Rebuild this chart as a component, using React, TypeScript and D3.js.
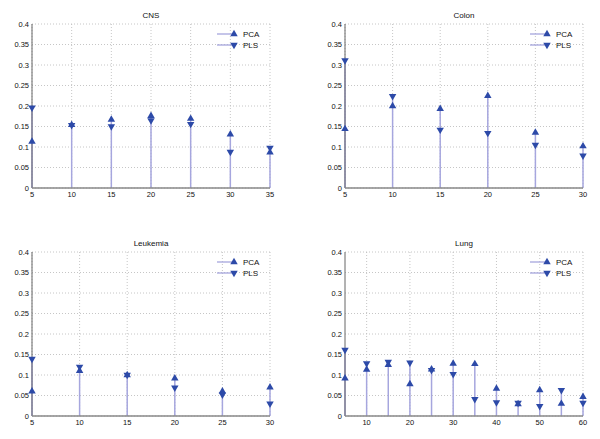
import React from 'react'
import * as d3 from 'd3'

const yTicks = [0, 0.05, 0.1, 0.15, 0.2, 0.25, 0.3, 0.35, 0.4]

const cnsX = [5, 10, 15, 20, 25, 30, 35]
const cnsPCA = [0.113, 0.154, 0.167, 0.176, 0.169, 0.131, 0.087]
const cnsPLS = [0.196, 0.153, 0.15, 0.165, 0.156, 0.088, 0.098]

const colonX = [5, 10, 15, 20, 25, 30]
const colonPCA = [0.144, 0.2, 0.193, 0.225, 0.135, 0.102]
const colonPLS = [0.311, 0.224, 0.142, 0.134, 0.105, 0.079]

const leukX = [5, 10, 15, 20, 25, 30]
const leukPCA = [0.06, 0.11, 0.1, 0.092, 0.06, 0.07]
const leukPLS = [0.139, 0.12, 0.1, 0.069, 0.052, 0.03]

const lungX = [5, 10, 15, 20, 25, 30, 35, 40, 45, 50, 55, 60]
const lungPCA = [0.092, 0.113, 0.125, 0.078, 0.114, 0.128, 0.127, 0.067, 0.029, 0.063, 0.03, 0.047]
const lungPLS = [0.161, 0.128, 0.132, 0.13, 0.112, 0.102, 0.041, 0.033, 0.032, 0.024, 0.063, 0.032]

const stemColor = '#a6a6de'
const markColor = '#2d4aa8'
const font = '"Liberation Sans", Arial, Helvetica, sans-serif'

const triUp = d3.symbol().type(d3.symbolTriangle).size(24)()

function Marker({ x, y, down }) {
  return (
    <path
      d={triUp}
      transform={`translate(${x},${y})${down ? ' rotate(180)' : ''}`}
      fill={markColor}
    />
  )
}

function Panel({ title, xs, pca, pls, xTicks, left, top }) {
  const w = 238
  const h = 164
  const x = d3.scaleLinear().domain([xs[0], xs[xs.length - 1]]).range([0, w])
  const y = d3.scaleLinear().domain([0, 0.4]).range([h, 0])

  return (
    <g transform={`translate(${left},${top})`} fontFamily={font}>
      <text x={w / 2} y={-6} textAnchor="middle" fontSize={8} fill="#111">
        {title}
      </text>
      {/* grid */}
      {yTicks.map((t) => (
        <line key={'gy' + t} x1={0} x2={w} y1={y(t)} y2={y(t)} stroke="#b8b8b8" strokeWidth={0.8} strokeDasharray="1,2" />
      ))}
      {xTicks.map((t) => (
        <line key={'gx' + t} x1={x(t)} x2={x(t)} y1={0} y2={h} stroke="#b8b8b8" strokeWidth={0.8} strokeDasharray="1,2" />
      ))}
      {/* stems */}
      {xs.map((v, i) => (
        <line key={'s' + v} x1={x(v)} x2={x(v)} y1={y(0)} y2={y(Math.max(pca[i], pls[i]))} stroke={stemColor} strokeWidth={1.5} />
      ))}
      {/* axes */}
      <line x1={0} x2={0} y1={0} y2={h} stroke="#666" strokeWidth={1} />
      <line x1={0} x2={w} y1={h} y2={h} stroke="#888" strokeWidth={1.4} />
      {/* markers */}
      {xs.map((v, i) => (
        <Marker key={'p' + v} x={x(v)} y={y(pca[i])} />
      ))}
      {xs.map((v, i) => (
        <Marker key={'l' + v} x={x(v)} y={y(pls[i])} down />
      ))}
      {/* tick labels */}
      {yTicks.map((t) => (
        <text key={'ty' + t} x={-3} y={y(t)} dy="0.35em" textAnchor="end" fontSize={7.5} fill="#111">
          {t}
        </text>
      ))}
      {xTicks.map((t) => (
        <text key={'tx' + t} x={x(t)} y={h + 9} textAnchor="middle" fontSize={7.5} fill="#111">
          {t}
        </text>
      ))}
      {/* legend */}
      <line x1={w - 53} x2={w - 36} y1={10} y2={10} stroke={stemColor} strokeWidth={1.3} />
      <Marker x={w - 36} y={10} />
      <text x={w - 27} y={10} dy="0.35em" fontSize={8} fill="#111">PCA</text>
      <line x1={w - 53} x2={w - 36} y1={21} y2={21} stroke={stemColor} strokeWidth={1.3} />
      <Marker x={w - 36} y={21} down />
      <text x={w - 27} y={21} dy="0.35em" fontSize={8} fill="#111">PLS</text>
    </g>
  )
}

export default function App() {
  return (
    <>
      <style>{'body{margin:0;background:#fff}'}</style>
      <svg width={600} height={439} style={{ display: 'block' }}>
        <rect width={600} height={439} fill="#fff" />
        <Panel title="CNS" xs={cnsX} pca={cnsPCA} pls={cnsPLS} xTicks={cnsX} left={32} top={24} />
        <Panel title="Colon" xs={colonX} pca={colonPCA} pls={colonPLS} xTicks={colonX} left={345} top={24} />
        <Panel title="Leukemia" xs={leukX} pca={leukPCA} pls={leukPLS} xTicks={leukX} left={32} top={252} />
        <Panel title="Lung" xs={lungX} pca={lungPCA} pls={lungPLS} xTicks={[10, 20, 30, 40, 50, 60]} left={345} top={252} />
      </svg>
    </>
  )
}
